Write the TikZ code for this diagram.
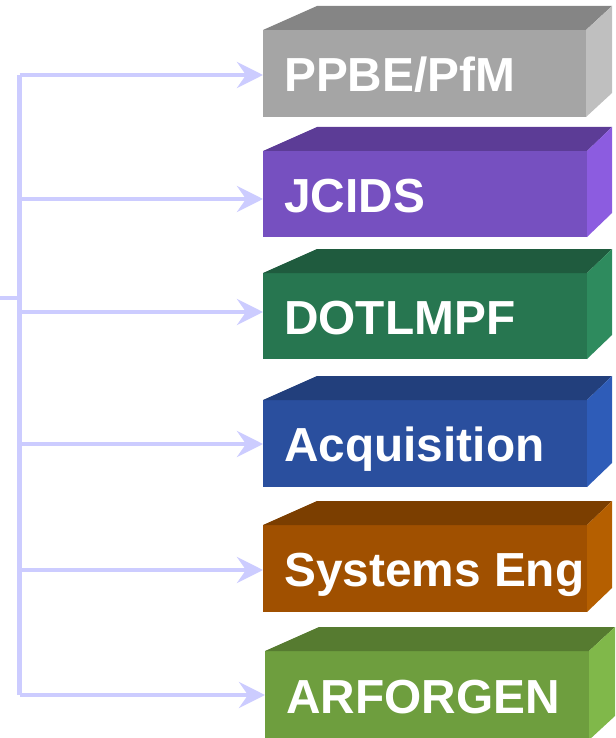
\documentclass[tikz,border=0pt]{standalone}
\usepackage{fontspec}
\newfontfamily\boxfont{Liberation Sans}
\usetikzlibrary{arrows.meta,calc}
\definecolor{conn}{HTML}{CCCCFF}
\definecolor{grayF}{HTML}{A5A5A5}\definecolor{grayT}{HTML}{858585}\definecolor{grayS}{HTML}{BFBFBF}
\definecolor{purF}{HTML}{7650C0}\definecolor{purT}{HTML}{5C3C96}\definecolor{purS}{HTML}{8C5CE0}
\definecolor{grnF}{HTML}{277650}\definecolor{grnT}{HTML}{1F5B3E}\definecolor{grnS}{HTML}{2E8B5E}
\definecolor{bluF}{HTML}{2A4F9E}\definecolor{bluT}{HTML}{223F7C}\definecolor{bluS}{HTML}{2E5CB8}
\definecolor{orgF}{HTML}{A05000}\definecolor{orgT}{HTML}{7B3E00}\definecolor{orgS}{HTML}{B55F00}
\definecolor{lgrF}{HTML}{6E9E3E}\definecolor{lgrT}{HTML}{567B30}\definecolor{lgrS}{HTML}{80B84A}
\tikzset{
  frontface/.style={rectangle, inner sep=0pt, outer sep=0pt},
  boxlabel/.style={anchor=base west, inner sep=0pt, text=white,
    font=\boxfont\bfseries\fontsize{47.8}{52}\selectfont},
  connline/.style={draw=conn, line width=4.5pt},
  connarrow/.style={connline, -{Stealth[length=26pt,width=26pt,inset=9pt]}},
}
% #1 name, #2 xl, #3 ytop, #4 xr, #5 ybot, #6 colour prefix, #7 text, #8 baseline, #9 depth dx right
\newcommand\drawcube[9]{%
  \node[frontface, fill=#6F, minimum width={(#4-#2)*1pt}, minimum height={(#5-#3)*1pt}]
    (#1) at ({(#2+#4)/2},{(#3+#5)/2}) {};
  \fill[#6T] (#1.north west) -- ++(54,-24) -- ($(#1.north east)+(#9,-24)$) -- (#1.north east) -- cycle;
  \fill[#6S] (#1.north east) -- ++(#9,-24) -- ($(#1.south east)+(#9,-24)$) -- (#1.south east) -- cycle;
  \node[boxlabel] (#1t) at ({#2+21},#8) {#7};
}
\begin{document}
\begin{tikzpicture}[x=1pt,y=-1pt]
\useasboundingbox (0,0) rectangle (615,738);
\drawcube{b1}{263}{30}{586}{117}{gray}{PPBE/PfM}{92}{26}
\drawcube{b2}{263}{151}{587}{237}{pur}{JCIDS}{212}{25}
\drawcube{b3}{263}{273}{587}{359}{grn}{DOTLMPF}{334}{25}
\drawcube{b4}{263}{400}{587}{487}{blu}{Acquisition}{461}{25}
\drawcube{b5}{263}{525}{587}{612}{org}{Systems Eng}{586}{25}
\drawcube{b6}{265}{651}{589}{740}{lgr}{ARFORGEN}{713}{26}
\coordinate (j1) at (19.5,75);
\coordinate (j2) at (19.5,199);
\coordinate (j3) at (19.5,312);
\coordinate (j4) at (19.5,444);
\coordinate (j5) at (19.5,570);
\coordinate (j6) at (19.5,695);
\coordinate (s) at (0,298);
\draw[connline] (j1) -- (j6);
\draw[connline] (s) -- (s -| j1);
\foreach \i in {1,...,6} {
  \draw[connarrow] (j\i) -- (j\i -| b\i.west);
}
\end{tikzpicture}
\end{document}
